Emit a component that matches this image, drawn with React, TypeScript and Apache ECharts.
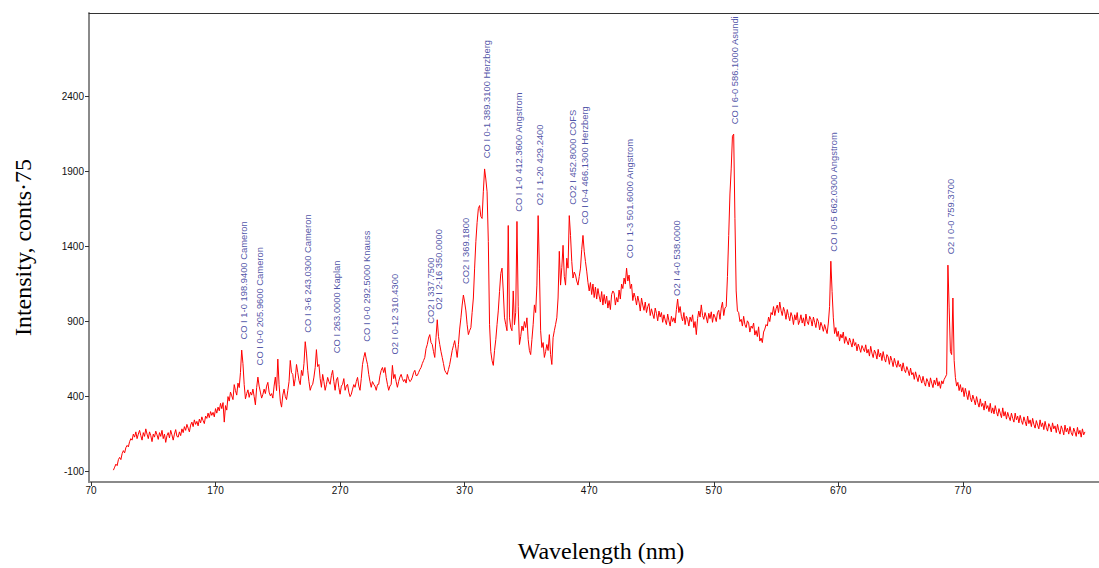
import React, { useEffect, useRef } from "react";
import * as echarts from "echarts";

// Spectrum intensities, one value per nm, starting at each band's first wavelength
const band088Start = 88;
const band088 = [
  -90, -70, -50, -60, -20, -5, -20, 20, 40, 25,
  60, 75, 65, 100, 120, 110, 150, 130, 165, 120,
  150, 175, 140, 110, 160, 135, 185, 150, 120, 165,
  140, 100, 150, 130, 170, 145, 115, 160, 135, 175,
  120, 150, 95, 140, 160, 125, 175, 145, 110, 150,
  180, 135, 130, 165, 140, 185, 160, 200, 175, 215,
  190, 165, 210, 230, 200, 245, 215, 235, 205, 250,
  225, 265, 240, 220, 270, 255, 290, 260, 300, 275,
  295, 265, 320, 290, 330, 305, 355, 320, 360, 230,
  340, 310, 400, 370, 430, 405, 380, 480, 440, 410,
  490, 460,
];
const band190Start = 190;
const band190 = [
  560, 710, 620, 480, 385, 420, 445, 395, 430, 410,
  450, 400, 345, 460, 530, 470, 430, 390, 415, 450,
  420, 470, 495, 430, 405, 420, 390, 470, 530, 440,
  650, 480, 370, 330, 410, 450, 400, 380, 440, 500,
  641, 560, 548, 470, 520, 614, 560, 508, 480, 575,
  540, 620, 766, 690, 575, 500, 442, 470, 482, 530,
  594, 713, 600, 614, 520, 462, 548, 500, 442, 480,
  528, 500, 482, 540, 575, 500, 442, 510, 528, 460,
  416, 470, 482, 520, 442, 470, 482, 430, 400, 416,
  450, 480, 462, 500, 528, 470, 442, 520, 614, 660,
];
const band290Start = 290;
const band290 = [
  694, 650, 614, 548, 500, 462, 500, 482, 470, 442,
  480, 482, 540, 575, 594, 560, 594, 528, 482, 442,
  470, 482, 608, 520, 548, 500, 462, 500, 530, 548,
  520, 500, 515, 490, 548, 520, 500, 508, 530, 560,
  575, 540, 541, 560, 580, 594, 620, 640, 661, 720,
  747, 790, 813, 760, 747, 700, 661, 793, 912, 800,
  747, 700, 661, 620, 575, 560, 548, 580, 614, 660,
  707, 740, 773, 720, 661, 747, 850, 925, 1010, 1077,
  1030, 971, 879, 813, 840, 859, 960, 1057, 1256, 1434,
  1560, 1653, 1673, 1600, 1587, 1765, 1917, 1850, 1765, 1434,
];
const band390Start = 390;
const band390 = [
  879, 700, 640, 608, 707, 780, 880, 971, 1100, 1220,
  1256, 1104, 925, 880, 839, 1540, 925, 860, 839, 1104,
  879, 960, 1567, 1000, 747, 800, 870, 839, 900, 860,
  925, 780, 707, 680, 780, 879, 1011, 960, 1143, 1606,
  1256, 839, 727, 760, 661, 700, 747, 707, 813, 680,
  614, 793, 839, 880, 925, 1057, 1368, 1143, 1260, 1408,
  1200, 1143, 1322, 1256, 1606, 1474, 1300, 1190, 1230, 1210,
  1170, 1143, 1200, 1256, 1380, 1474, 1368, 1300, 1236, 1160,
  1104, 1160, 1080, 1150, 1060, 1130, 1050, 1120, 1070, 1030,
  1100, 1010, 1080, 1020, 1070, 990, 1040, 980, 1080, 1104,
];
const band490Start = 490;
const band490 = [
  1090, 1010, 1060, 1030, 1110, 1050, 1150, 1120, 1190, 1150,
  1256, 1170, 1210, 1120, 1150, 1040, 1090, 1060, 1010, 1070,
  1030, 970, 1057, 1010, 975, 1030, 960, 1000, 1020, 940,
  985, 950, 920, 990, 955, 905, 970, 930, 960, 895,
  945, 910, 880, 950, 905, 870, 935, 900, 925, 890,
  980, 1050, 960, 1000, 935, 905, 960, 880, 935, 915,
  870, 930, 900, 945, 860, 900, 813, 920, 970, 930,
  1011, 940, 915, 960, 930, 890, 955, 920, 965, 895,
  950, 930, 900, 960, 975, 915, 990, 1030, 940, 990,
  1000, 1200, 1474, 1750, 1917, 2135, 2149, 1587, 1104, 971,
];
const band590Start = 590;
const band590 = [
  960, 900, 915, 870, 935, 880, 860, 905, 890, 830,
  870, 855, 890, 810, 840, 800, 865, 770, 790, 760,
  830, 850, 880, 870, 930, 900, 960, 945, 1000, 940,
  985, 1010, 960, 1030, 975, 940, 995, 965, 915, 980,
  940, 905, 960, 935, 880, 945, 910, 960, 880, 905,
  945, 890, 925, 870, 950, 900, 880, 935, 915, 870,
  930, 895, 860, 920, 900, 845, 895, 870, 835, 880,
  850, 820, 890, 1000, 1302, 1100, 925, 820, 860, 800,
  835, 770, 815, 790, 830, 755, 800, 770, 745, 790,
  760, 730, 785, 740, 760, 705, 750, 725, 695, 740,
];
const band690Start = 690;
const band690 = [
  720, 700, 745, 690, 715, 670, 735, 690, 660, 710,
  690, 650, 715, 665, 690, 640, 700, 655, 630, 680,
  665, 615, 670, 640, 600, 655, 620, 595, 640, 600,
  615, 570, 625, 580, 560, 600, 575, 540, 590, 545,
  560, 515, 565, 530, 500, 545, 520, 490, 535, 495,
  470, 520, 500, 465, 525, 490, 460, 510, 480, 525,
  470, 500, 455, 505, 485, 515, 530, 548, 1276, 991,
  700, 680, 1057, 641, 528, 470, 495, 440, 480, 430,
  460, 400, 455, 415, 380, 440, 395, 365, 410, 380,
  345, 400, 360, 330, 385, 335, 355, 310, 370, 320,
];
const band790Start = 790;
const band790 = [
  340, 300, 355, 290, 325, 285, 340, 300, 270, 320,
  290, 260, 325, 270, 300, 250, 295, 265, 240, 290,
  255, 230, 290, 245, 270, 225, 275, 240, 215, 265,
  235, 205, 270, 220, 245, 200, 255, 215, 190, 240,
  210, 185, 245, 200, 225, 180, 235, 195, 170, 220,
  200, 165, 225, 185, 205, 160, 215, 175, 150, 205,
  180, 145, 210, 165, 190, 150, 200, 160, 140, 190,
  165, 135, 195, 150, 175, 130, 185, 145, 165,
];

const bandStarts = [band088Start, band190Start, band290Start, band390Start, band490Start, band590Start, band690Start, band790Start];
const bandValues = [band088, band190, band290, band390, band490, band590, band690, band790];

// Annotated emission lines: text, and where each label begins (wavelength, intensity)
const lineNames = [
  "CO I 1-0 198.9400 Cameron",
  "CO I 0-0 205.9600 Cameron",
  "CO I 3-6 243.0300 Cameron",
  "CO I 263.0000 Kaplan",
  "CO I 0-0 292.5000 Knauss",
  "O2 I 0-12 310.4300",
  "CO2 I 337.7500",
  "O2 I 2-16 350.0000",
  "CO2 I 369.1800",
  "CO I 0-1 389.3100 Herzberg",
  "CO I 1-0 412.3600 Angstrom",
  "O2 I 1-20 429.2400",
  "CO2 I 452.8000 COFS",
  "CO I 0-4 466.1300 Herzberg",
  "CO I 1-3 501.6000 Angstrom",
  "O2 I 4-0 538.0000",
  "CO I 6-0 586.1000 Asundi",
  "CO I 0-5 662.0300 Angstrom",
  "O2 I 0-0 759.3700",
];
const lineLabelX = [192.8, 205.1, 243.7, 267.3, 291.4, 313.3, 342.7, 349.4, 370.3, 387.7, 413.6, 429.7, 456.8, 466.6, 502, 539.7, 587, 666, 759.7];
const lineLabelY = [780, 608, 826, 689, 766, 680, 885, 978, 1150, 1988, 1631, 1675, 1679, 1547, 1322, 1071, 2215, 1366, 1348];

const xTicks = [70, 170, 270, 370, 470, 570, 670, 770];
const yTicks = [-100, 400, 900, 1400, 1900, 2400];

const X_MIN = 68.4;
const X_MAX = 879.3;
const Y_MIN = -169;
const Y_MAX = 2956;

export default function App() {
  const ref = useRef<HTMLDivElement>(null);

  useEffect(() => {
    if (!ref.current) return;
    const chart = echarts.init(ref.current, undefined, { renderer: "svg" });

    const spectrum: number[][] = [];
    bandValues.forEach((arr, b) => {
      arr.forEach((v, i) => spectrum.push([bandStarts[b] + i, v]));
    });

    const labelData = lineNames.map((n, i) => [lineLabelX[i], lineLabelY[i], n]);

    const tickFont = { fontFamily: "'Liberation Sans', Arial, sans-serif", fontSize: 10, color: "#111" };
    const nameFont = { fontFamily: "'Liberation Serif', 'Times New Roman', serif", fontSize: 24, color: "#000" };

    chart.setOption({
      animation: false,
      backgroundColor: "#fff",
      grid: { left: 89, top: 13, right: 0, bottom: 83, containLabel: false },
      xAxis: [
        {
          type: "value",
          min: X_MIN,
          max: X_MAX,
          name: "Wavelength (nm)",
          nameLocation: "middle",
          nameGap: 57,
          nameTextStyle: { ...nameFont, padding: [0, 0, 0, 14] },
          axisLine: { show: true, onZero: false, lineStyle: { color: "#8a8a8a", width: 2 } },
          axisTick: { show: true, customValues: xTicks, length: 4, lineStyle: { color: "#333", width: 1 } },
          axisLabel: { show: true, customValues: xTicks, margin: 3, formatter: (v: number) => String(v), ...tickFont },
          splitLine: { show: false },
        },
        {
          type: "value",
          position: "top",
          min: X_MIN,
          max: X_MAX,
          axisLine: { show: true, onZero: false, lineStyle: { color: "#333", width: 1 } },
          axisTick: { show: false },
          axisLabel: { show: false },
          splitLine: { show: false },
        },
      ],
      yAxis: {
        type: "value",
        min: Y_MIN,
        max: Y_MAX,
        name: "Intensity, conts·75",
        nameLocation: "middle",
        nameGap: 54,
        nameTextStyle: nameFont,
        axisLine: { show: true, onZero: false, lineStyle: { color: "#8a8a8a", width: 2 } },
        axisTick: { show: true, customValues: yTicks, length: 4, lineStyle: { color: "#333", width: 1 } },
        axisLabel: { show: true, customValues: yTicks, margin: 5, formatter: (v: number) => String(v), ...tickFont },
        splitLine: { show: false },
      },
      series: [
        {
          type: "line",
          data: spectrum,
          showSymbol: false,
          symbol: "none",
          lineStyle: { color: "#ff0000", width: 1 },
          silent: true,
          z: 2,
        },
        {
          type: "scatter",
          data: labelData,
          symbolSize: 1,
          itemStyle: { color: "rgba(0,0,0,0)" },
          silent: true,
          z: 3,
          labelLayout: { hideOverlap: false },
          label: {
            show: true,
            formatter: (p: any) => p.data[2],
            position: "inside",
            rotate: 90,
            align: "left",
            verticalAlign: "middle",
            fontFamily: "'Liberation Sans', Arial, sans-serif",
            fontSize: 9.4,
            color: "#1c2690",
          },
        },
      ],
    });

    return () => chart.dispose();
  }, []);

  return <div ref={ref} style={{ position: "absolute", left: 0, top: 0, width: 1099, height: 568 }} />;
}
